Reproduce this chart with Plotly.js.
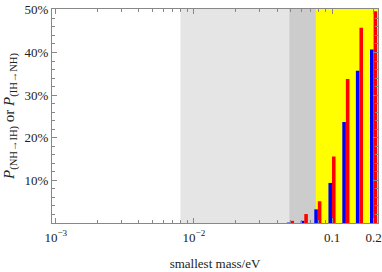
<!DOCTYPE html>
<html><head><meta charset="utf-8">
<script src="https://cdn.plot.ly/plotly-3.0.1.min.js"></script>
<style>html,body{margin:0;padding:0;background:#fff}#chart{width:382px;height:272px}</style>
</head><body><div id="chart"></div>
<script>
// smallest mass (eV) for each bar pair
const masses = [0.05, 0.063, 0.079, 0.1, 0.126, 0.158, 0.2];
// probabilities (%)
const blueVals = [0.1, 0.5, 3.2, 9.4, 23.7, 35.7, 40.7];
const redVals  = [0.5, 2.1, 5.1, 15.6, 33.8, 45.8, 49.7];
// shaded bands (eV)
const bandLight = [0.008, 0.049];
const bandDark  = [0.049, 0.0765];
const bandYellow = [0.0765, 0.215];
const xTickVals = [0.001, 0.01, 0.1, 0.2];
const xTickText = ['10<sup>\u22123</sup>', '10<sup>\u22122</sup>', '0.1', '0.2'];
const yTickVals = [10, 20, 30, 40, 50];
const yTickText = ['10%', '20%', '30%', '40%', '50%'];

const lg = v => Math.log10(v);
const xr = [-3.027, -0.667];
const minorX = [];
[0.001, 0.01, 0.1].forEach(d => { for (let k = 2; k <= 9; k++) { if (d*k < 0.215 && !(d===0.1 && k===2)) minorX.push(lg(d*k)); } });

const font = {family: 'Liberation Serif, Times New Roman, serif', size: 13, color: '#222'};
const titleFontY = {family: 'Liberation Serif, Times New Roman, serif', size: 15, color: '#222'};

const traces = [
  {type: 'bar', x: masses.map(lg), y: blueVals, marker: {color: '#0000ff', line: {width: 0}}, hoverinfo: 'skip'},
  {type: 'bar', x: masses.map(lg), y: redVals, marker: {color: '#ff0000', line: {width: 0}}, hoverinfo: 'skip'}
];

const band = (b, c) => ({type: 'rect', xref: 'x', yref: 'paper', x0: lg(b[0]), x1: lg(b[1]), y0: 0, y1: 1, fillcolor: c, line: {width: 0}, layer: 'below'});

const layout = {
  width: 382, height: 272,
  margin: {l: 52, r: 4, t: 9, b: 49},
  paper_bgcolor: '#fff', plot_bgcolor: '#fff',
  showlegend: false,
  font: font,
  barmode: 'group', bargap: 0.475, bargroupgap: 0,
  shapes: [band(bandLight, '#e5e5e5'), band(bandDark, '#cccccc'), band(bandYellow, '#ffff00')],
  xaxis: {
    type: 'linear', range: xr, tickmode: 'array', tickvals: xTickVals.map(lg), ticktext: xTickText,
    ticks: 'inside', ticklen: 5, tickcolor: '#888', showgrid: false, zeroline: false,
    showline: true, linecolor: '#888', linewidth: 1, mirror: 'allticks',
    minor: {tickmode: 'array', tickvals: minorX, ticks: 'inside', ticklen: 3, tickcolor: '#888', showgrid: false},
    tickfont: font, ticklabelstandoff: 2,
    title: {text: 'smallest mass/eV', font: font, standoff: 15}
  },
  yaxis: {
    range: [0, 50.2], tickmode: 'array', tickvals: yTickVals, ticktext: yTickText,
    ticks: 'inside', ticklen: 5, tickcolor: '#888', showgrid: false, zeroline: false,
    showline: true, linecolor: '#888', linewidth: 1, mirror: 'allticks',
    minor: {dtick: 2, ticks: 'inside', ticklen: 3, tickcolor: '#888', showgrid: false},
    tickfont: font,
    title: {text: '<i>P</i><sub>(NH\u2192IH)</sub> or <i>P</i><sub>(IH\u2192NH)</sub>', font: titleFontY, standoff: 6}
  }
};
Plotly.newPlot('chart', traces, layout, {staticPlot: true, displayModeBar: false});
</script></body></html>
